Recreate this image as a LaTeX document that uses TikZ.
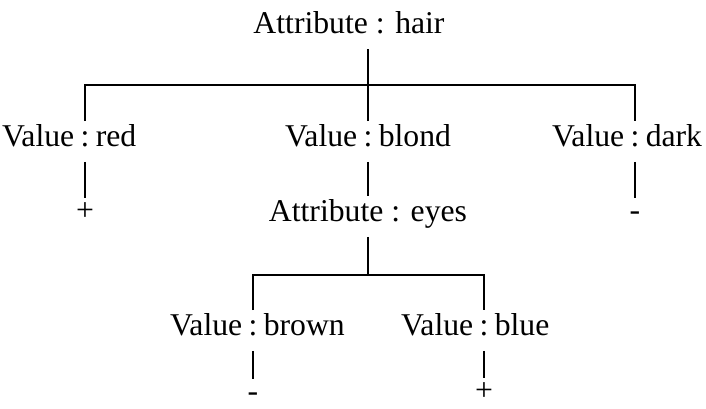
\documentclass[tikz,border=0pt]{standalone}
\usepackage{fontspec}
\setmainfont{Liberation Serif}
\usepackage{tikz}
\usetikzlibrary{positioning}
\newcommand{\attval}[2]{\llap{#1\hspace{0.2em}}:\rlap{\hspace{0.2em}#2}}

\begin{document}
\begin{tikzpicture}[x=1pt,y=-1pt,line width=1.8pt,
    font=\fontsize{31.7}{38}\selectfont,
    tnode/.style={anchor=base,inner sep=3pt,text height=21pt,text depth=12pt},
    leaf/.style={anchor=base,inner sep=3pt,text height=18pt,text depth=0pt}]
    \useasboundingbox (0,0) rectangle (706,408);
    \node[tnode] (hair) at (349,33) {Attribute : hair};
    \node[tnode] (red) at (85,146) {\attval{Value}{red}};
    \node[tnode] (blond) at (368,146) {\attval{Value}{blond}};
    \node[tnode] (dark) at (635,146) {\attval{Value}{dark}};
    \node[leaf] (redleaf) at (85,220) {+};
    \node[leaf] (darkleaf) at (635,220) {-};
    \node[tnode] (eyes) at (368,221) {Attribute : eyes};
    \node[tnode] (brown) at (253,335) {\attval{Value}{brown}};
    \node[tnode] (blue) at (484,335) {\attval{Value}{blue}};
    \node[leaf] (brownleaf) at (253,401) {-};
    \node[leaf] (blueleaf) at (484,400) {+};
    \coordinate (hairbar) at (368,85);
    \coordinate (eyesbar) at (368,275);
    \draw (red.north) |- (hairbar) -| (dark.north);
    \draw (blond.north) -- (hair.south -| blond.north);
    \draw (blond.south) -- (eyes.north);
    \draw (eyes.south) -- (eyesbar);
    \draw (brown.north) |- (eyesbar) -| (blue.north);
    \draw (red.south) -- (redleaf.north);
    \draw (dark.south) -- (darkleaf.north);
    \draw (brown.south) -- (brownleaf.north);
    \draw (blue.south) -- (blueleaf.north);
\end{tikzpicture}
\end{document}
